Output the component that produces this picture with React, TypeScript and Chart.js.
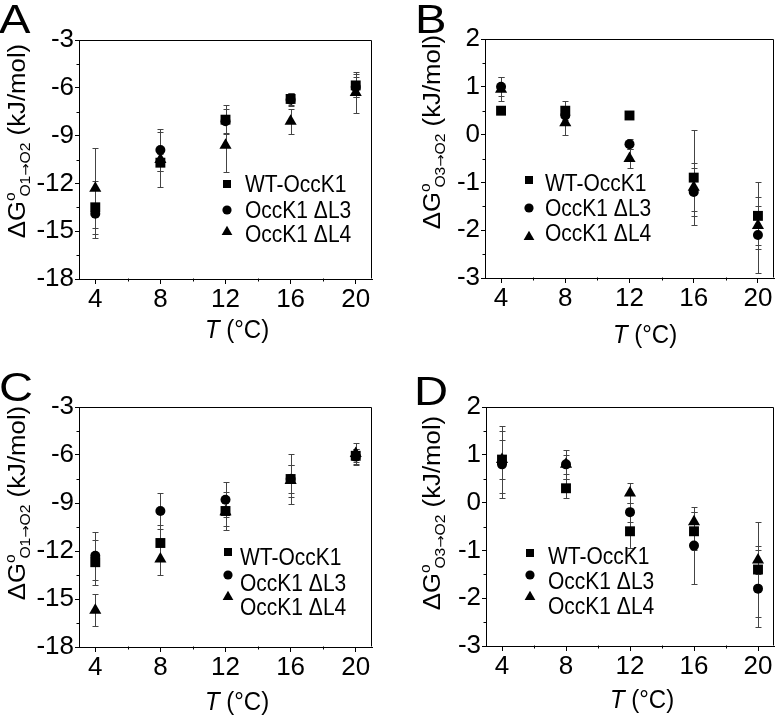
import React, { useEffect, useRef } from 'react';
import { Chart, registerables } from 'chart.js';

Chart.register(...registerables);

// ---------- data ----------
const temps = [4, 8, 12, 16, 20];
const xTickValues = [4, 8, 12, 16, 20];
const xMinorValues = [6, 10, 14, 18];
const seriesNames = ['WT-OccK1', 'OccK1 ΔL3', 'OccK1 ΔL4'];

const yTicksO1 = [-18, -15, -12, -9, -6, -3];
const yMinorO1 = [-16.5, -13.5, -10.5, -7.5, -4.5];
const yTicksO3 = [-3, -2, -1, 0, 1, 2];
const yMinorO3 = [-2.5, -1.5, -0.5, 0.5, 1.5];

// Panel A: ΔG O1→O2
const aWT = [-13.5, -10.7, -8.0, -6.7, -5.85];
const aWTErr = [1.65, 0.55, 0.9, 0.35, 0.7];
const aL3 = [-13.9, -9.9, -8.1, -6.75, -5.95];
const aL3Err = [1.5, 1.3, 0.75, 0.4, 0.6];
const aL4 = [-12.3, -10.5, -9.6, -8.1, -6.3];
const aL4Err = [2.5, 1.75, 1.7, 0.8, 1.3];

// Panel B: ΔG O3→O2
const bWT = [0.5, 0.5, 0.4, -0.9, -1.7];
const bWTErr = [0.05, 0.2, 0.05, 1.0, 0.7];
const bL3 = [1.0, 0.4, -0.2, -1.2, -2.1];
const bL3Err = [0.2, 0.2, 0.1, 0.5, 0.8];
const bL4 = [0.95, 0.25, -0.5, -1.1, -1.9];
const bL4Err = [0.25, 0.25, 0.2, 0.5, 0.4];

// Panel C: ΔG O1→O2
const cWT = [-12.7, -11.5, -9.5, -7.5, -6.05];
const cWTErr = [1.4, 1.1, 1.2, 1.55, 0.4];
const cL3 = [-12.3, -9.5, -8.8, -7.5, -6.1];
const cL3Err = [1.5, 1.1, 1.1, 0.9, 0.5];
const cL4 = [-15.7, -12.5, -9.55, -7.6, -5.9];
const cL4Err = [1.0, 1.0, 0.9, 1.0, 0.65];

// Panel D: ΔG O3→O2
const dWT = [0.9, 0.3, -0.6, -0.6, -1.4];
const dWTErr = [0.7, 0.2, 0.35, 0.4, 1.0];
const dL3 = [0.8, 0.8, -0.2, -0.9, -1.8];
const dL3Err = [0.7, 0.3, 0.2, 0.8, 0.8];
const dL4 = [0.9, 0.8, 0.2, -0.4, -1.2];
const dL4Err = [0.4, 0.2, 0.2, 0.2, 0.3];

// ---------- styling ----------
const FONT = "'Liberation Sans', Arial, Helvetica, sans-serif";
const ARROW_FONT = "'DejaVu Sans', 'Liberation Sans', sans-serif";
const pointStyles = ['rect', 'circle', 'triangle'];
const pointRadii = [7, 5, 7];
const ERR_COLOR = '#444';

type Seg = { t: string; size: number; italic?: boolean; shift?: number; adv?: number; family?: string };

function fontOf(s: Seg) {
  return `${s.italic ? 'italic ' : ''}${s.size}px ${s.family ?? FONT}`;
}

function drawRich(
  ctx: CanvasRenderingContext2D,
  segs: Seg[],
  x: number,
  y: number,
  opts: { rotate?: boolean; align?: 'left' | 'center'; sx?: number; sy?: number }
) {
  const { rotate = false, align = 'left', sx = 1, sy = 1 } = opts;
  ctx.save();
  ctx.translate(x, y);
  ctx.scale(sx, sy);
  if (rotate) ctx.rotate(-Math.PI / 2);
  ctx.textBaseline = 'alphabetic';
  ctx.textAlign = 'left';
  ctx.fillStyle = '#000';
  const widths: number[] = [];
  let total = 0;
  for (const s of segs) {
    ctx.font = fontOf(s);
    const w = ctx.measureText(s.t).width;
    widths.push(w);
    total += w * (s.adv ?? 1);
  }
  let cx = align === 'center' ? -total / 2 : 0;
  segs.forEach((s, i) => {
    ctx.font = fontOf(s);
    ctx.fillText(s.t, cx, s.shift ?? 0);
    cx += widths[i] * (s.adv ?? 1);
  });
  ctx.restore();
}

function drawMarker(ctx: CanvasRenderingContext2D, style: string, x: number, y: number) {
  ctx.beginPath();
  if (style === 'rect') {
    ctx.rect(x - 4, y - 4, 8, 8);
  } else if (style === 'circle') {
    ctx.arc(x, y, 4.6, 0, Math.PI * 2);
  } else {
    const r = 6.2;
    ctx.moveTo(x, y - r);
    ctx.lineTo(x + r * Math.cos(Math.PI / 6), y + r / 2);
    ctx.lineTo(x - r * Math.cos(Math.PI / 6), y + r / 2);
    ctx.closePath();
  }
  ctx.fill();
}

type Panel = {
  letter: string;
  left: number;
  top: number;
  w: number;
  h: number;
  vals: number[][];
  errs: number[][];
  yMin: number;
  yMax: number;
  yTicks: number[];
  yMinor: number[];
  subA: string;
  subB: string;
  padTop: number;
  padRight: number;
  yAxisW: number;
  xAxisH: number;
  letterX: number;
  letterY: number;
  xTitleX: number;
  xTitleY: number;
  yTitleX: number;
  yTitleY: number;
  legX: number;
  legTextX: number;
  legMarkY: number[];
  legTextY: number[];
};

const panels: Panel[] = [
  {
    letter: 'A', left: 0, top: 0, w: 390, h: 358,
    vals: [aWT, aL3, aL4], errs: [aWTErr, aL3Err, aL4Err],
    yMin: -18, yMax: -3, yTicks: yTicksO1, yMinor: yMinorO1, subA: 'O1', subB: 'O2',
    padTop: 40, padRight: 18, yAxisW: 79, xAxisH: 79,
    letterX: -1, letterY: 33, xTitleX: 237, xTitleY: 338, yTitleX: 25, yTitleY: 141,
    legX: 227, legTextX: 245, legMarkY: [184, 210, 232], legTextY: [183, 209, 233],
  },
  {
    letter: 'B', left: 390, top: 0, w: 391, h: 358,
    vals: [bWT, bL3, bL4], errs: [bWTErr, bL3Err, bL4Err],
    yMin: -3, yMax: 2, yTicks: yTicksO3, yMinor: yMinorO3, subA: 'O3', subB: 'O2',
    padTop: 39, padRight: 2, yAxisW: 95, xAxisH: 80,
    letterX: 25, letterY: 33, xTitleX: 255, xTitleY: 343, yTitleX: 50, yTitleY: 132,
    legX: 139, legTextX: 155, legMarkY: [180, 208, 237], legTextY: [182, 207, 232],
  },
  {
    letter: 'C', left: 0, top: 358, w: 390, h: 358,
    vals: [cWT, cL3, cL4], errs: [cWTErr, cL3Err, cL4Err],
    yMin: -18, yMax: -3, yTicks: yTicksO1, yMinor: yMinorO1, subA: 'O1', subB: 'O2',
    padTop: 49, padRight: 18, yAxisW: 79, xAxisH: 69,
    letterX: -1, letterY: 43, xTitleX: 237, xTitleY: 352, yTitleX: 25, yTitleY: 145,
    legX: 228, legTextX: 240, legMarkY: [194, 217, 239], legTextY: [198, 224, 248],
  },
  {
    letter: 'D', left: 390, top: 358, w: 391, h: 358,
    vals: [dWT, dL3, dL4], errs: [dWTErr, dL3Err, dL4Err],
    yMin: -3, yMax: 2, yTicks: yTicksO3, yMinor: yMinorO3, subA: 'O3', subB: 'O2',
    padTop: 49, padRight: 2, yAxisW: 96, xAxisH: 70,
    letterX: 24, letterY: 47, xTitleX: 252, xTitleY: 350, yTitleX: 50, yTitleY: 155,
    legX: 140, legTextX: 158, legMarkY: [195, 217, 239], legTextY: [197, 222, 247],
  },
];

function PanelChart({ p }: { p: Panel }) {
  const ref = useRef<HTMLCanvasElement | null>(null);
  useEffect(() => {
    if (!ref.current) return;
    const decor = {
      id: 'decor' + p.letter,
      beforeDatasetsDraw(chart: any) {
        const { ctx, scales } = chart;
        const xs = scales.x;
        const ys = scales.y;
        ctx.save();
        ctx.strokeStyle = ERR_COLOR;
        ctx.lineWidth = 1;
        chart.data.datasets.forEach((ds: any) => {
          ds.data.forEach((pt: any, j: number) => {
            const e = ds.errors[j];
            const px = Math.round(xs.getPixelForValue(pt.x)) + 0.5;
            const y1 = Math.round(ys.getPixelForValue(pt.y + e)) + 0.5;
            const y2 = Math.round(ys.getPixelForValue(pt.y - e)) + 0.5;
            ctx.beginPath();
            ctx.moveTo(px, y1);
            ctx.lineTo(px, y2);
            ctx.moveTo(px - 3, y1);
            ctx.lineTo(px + 3, y1);
            ctx.moveTo(px - 3, y2);
            ctx.lineTo(px + 3, y2);
            ctx.stroke();
          });
        });
        ctx.restore();
      },
      afterDraw(chart: any) {
        const { ctx, chartArea, scales } = chart;
        const xs = scales.x;
        const ys = scales.y;
        ctx.save();
        ctx.strokeStyle = '#000';
        ctx.lineWidth = 1;
        const L = Math.round(chartArea.left) + 0.5;
        const R = Math.round(chartArea.right) - 0.5;
        const T = Math.round(chartArea.top) + 0.5;
        const B = Math.round(chartArea.bottom) - 0.5;
        ctx.beginPath();
        ctx.moveTo(L, T);
        ctx.lineTo(R, T);
        ctx.lineTo(R, B);
        ctx.stroke();
        ctx.beginPath();
        xMinorValues.forEach((v) => {
          const px = Math.round(xs.getPixelForValue(v)) + 0.5;
          ctx.moveTo(px, B);
          ctx.lineTo(px, B + 3);
        });
        p.yMinor.forEach((v) => {
          const py = Math.round(ys.getPixelForValue(v)) + 0.5;
          ctx.moveTo(L, py);
          ctx.lineTo(L - 3, py);
        });
        ctx.stroke();
        ctx.restore();

        // panel letter
        drawRich(ctx, [{ t: p.letter, size: 41 }], p.letterX, p.letterY, { sx: 1.15 });
        // x title
        drawRich(
          ctx,
          [
            { t: 'T', size: 24, italic: true },
            { t: ' (°C)', size: 24 },
          ],
          p.xTitleX,
          p.xTitleY,
          { align: 'center', sy: 1.08 }
        );
        // y title
        drawRich(
          ctx,
          [
            { t: 'Δ', size: 23 },
            { t: 'G', size: 23 },
            { t: 'o', size: 14, shift: -10, adv: 0.5 },
            { t: p.subA, size: 14, shift: 5 },
            { t: '→', size: 13, shift: 5, family: ARROW_FONT },
            { t: p.subB, size: 14, shift: 5 },
            { t: ' (kJ/mol)', size: 23 },
          ],
          p.yTitleX,
          p.yTitleY,
          { rotate: true, align: 'center', sy: 1.12 }
        );
        // legend
        ctx.save();
        ctx.fillStyle = '#000';
        seriesNames.forEach((name, i) => {
          drawMarker(ctx, pointStyles[i], p.legX, p.legMarkY[i]);
          drawRich(ctx, [{ t: name, size: 21 }], p.legTextX, p.legTextY[i] + 8.6, { sy: 1.14 });
        });
        ctx.restore();
      },
    };

    const chart = new Chart(ref.current, {
      type: 'scatter',
      data: {
        datasets: seriesNames.map((name, i) => ({
          label: name,
          data: temps.map((t, j) => ({ x: t, y: p.vals[i][j] })),
          errors: p.errs[i],
          pointStyle: pointStyles[i],
          pointRadius: pointRadii[i],
          pointHoverRadius: pointRadii[i],
          backgroundColor: '#000',
          borderColor: '#000',
          borderWidth: 0,
        })) as any,
      },
      options: {
        animation: false,
        responsive: false,
        maintainAspectRatio: false,
        devicePixelRatio: 1,
        events: [],
        layout: { padding: { left: 0, top: p.padTop, right: p.padRight, bottom: 0 } },
        plugins: { legend: { display: false }, tooltip: { enabled: false } },
        scales: {
          x: {
            type: 'linear',
            min: 3,
            max: 21,
            afterBuildTicks: (s: any) => {
              s.ticks = xTickValues.map((v) => ({ value: v }));
            },
            afterFit: (s: any) => {
              s.height = p.xAxisH;
            },
            grid: { drawOnChartArea: false, drawTicks: true, tickLength: 5, color: '#000', lineWidth: 1 },
            border: { display: true, color: '#000', width: 1 },
            ticks: {
              color: '#000',
              font: { family: FONT, size: 26 },
              padding: 0,
              maxRotation: 0,
              autoSkip: false,
            },
          },
          y: {
            type: 'linear',
            min: p.yMin,
            max: p.yMax,
            afterBuildTicks: (s: any) => {
              s.ticks = p.yTicks.map((v) => ({ value: v }));
            },
            afterFit: (s: any) => {
              s.width = p.yAxisW;
            },
            grid: { drawOnChartArea: false, drawTicks: true, tickLength: 4, color: '#000', lineWidth: 1 },
            border: { display: true, color: '#000', width: 1 },
            ticks: {
              color: '#000',
              font: { family: FONT, size: 26 },
              padding: 1,
              autoSkip: false,
            },
          },
        },
      },
      plugins: [decor],
    });
    return () => chart.destroy();
  }, [p]);

  return (
    <canvas
      ref={ref}
      width={p.w}
      height={p.h}
      style={{ position: 'absolute', left: p.left, top: p.top, width: p.w, height: p.h }}
    />
  );
}

export default function App() {
  return (
    <div
      style={{
        position: 'absolute',
        left: 0,
        top: 0,
        width: 781,
        height: 716,
        background: '#fff',
        overflow: 'hidden',
      }}
    >
      {panels.map((p) => (
        <PanelChart key={p.letter} p={p} />
      ))}
    </div>
  );
}
